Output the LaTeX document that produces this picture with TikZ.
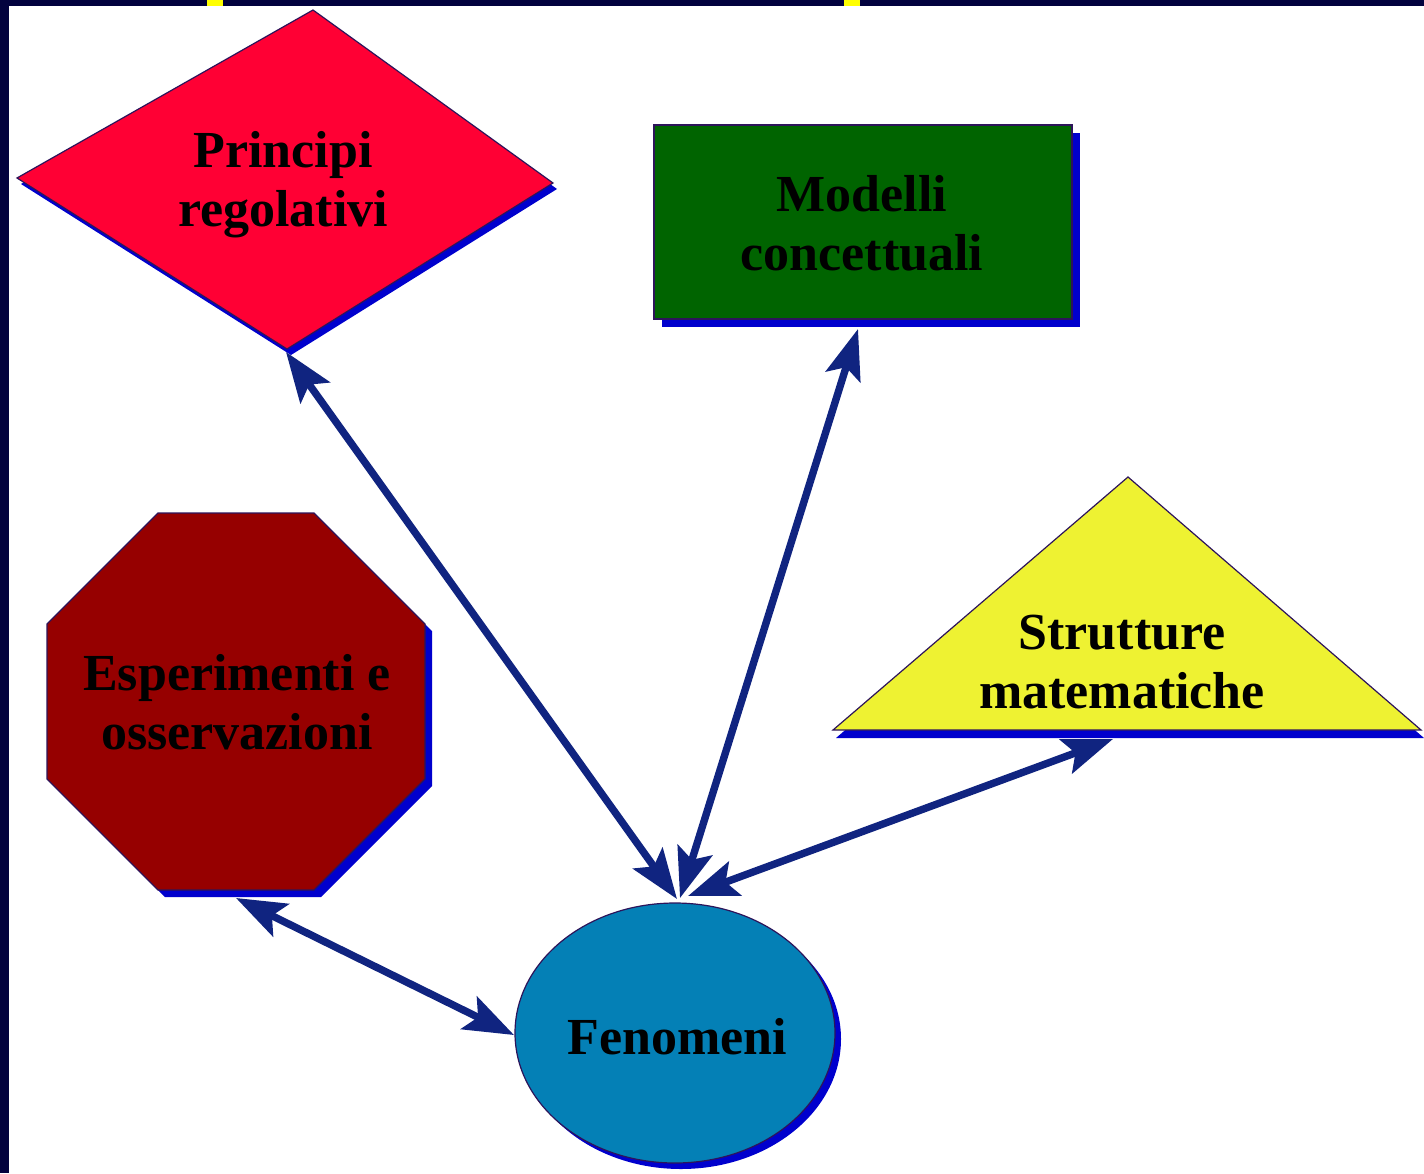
\documentclass[tikz,border=0pt]{standalone}
\usepackage{fontspec}
\setmainfont{Liberation Serif}
\usetikzlibrary{arrows.meta}

\definecolor{framenavy}{RGB}{2,2,62}
\definecolor{markyellow}{RGB}{255,255,0}
\definecolor{shadowblue}{RGB}{0,0,205}
\definecolor{edgeline}{RGB}{45,20,90}
\definecolor{princred}{RGB}{255,0,52}
\definecolor{modgreen}{RGB}{0,100,0}
\definecolor{strutyellow}{RGB}{238,242,50}
\definecolor{espred}{RGB}{150,0,0}
\definecolor{fenblue}{RGB}{4,128,182}
\definecolor{arrowblue}{RGB}{16,36,128}

\tikzset{
  shapeedge/.style={draw=edgeline, line width=0.6pt},
  shadowfill/.style={fill=shadowblue},
  lbl/.style={font=\fontsize{26pt}{29.5pt}\selectfont\bfseries, text=black,
              align=center, inner sep=0pt},
  link/.style={line width=3.7pt, draw=arrowblue, line cap=butt,
               {Stealth[length=25pt,width=18pt,inset=5pt]}-{Stealth[length=25pt,width=18pt,inset=5pt]}}
}

\begin{document}
\begin{tikzpicture}[x=0.5pt,y=-0.5pt]
\useasboundingbox (0,0) rectangle (1424,1173);
\fill[white] (0,0) rectangle (1424,1173);

% frame strips and markers
\fill[framenavy] (0,0) rectangle (1424,6);
\fill[framenavy] (0,0) rectangle (9,1173);
\fill[markyellow] (207,0) rectangle (223,6);
\fill[markyellow] (844,0) rectangle (860,6);

% diamond
\begin{scope}[shift={(4,6)}]
  \fill[shadowfill] (313,10) -- (553,183) -- (287,349) -- (17,178) -- cycle;
\end{scope}
\filldraw[fill=princred, shapeedge] (313,10) -- (553,183) -- (287,349) -- (17,178) -- cycle;

% rectangle
\fill[shadowfill] (662,133) rectangle (1080,327);
\filldraw[fill=modgreen, shapeedge] (654,125) rectangle (1072,319);

% triangle
\begin{scope}[shift={(3,8)}]
  \fill[shadowfill] (1128,477) -- (1421,730) -- (833,730) -- cycle;
\end{scope}
\filldraw[fill=strutyellow, shapeedge] (1128,477) -- (1421,730) -- (833,730) -- cycle;

% octagon
\begin{scope}[shift={(7,7)}]
  \fill[shadowfill] (158,513) -- (314,513) -- (425,624) -- (425,779) -- (314,890) -- (158,890) -- (47,779) -- (47,624) -- cycle;
\end{scope}
\filldraw[fill=espred, shapeedge] (158,513) -- (314,513) -- (425,624) -- (425,779) -- (314,890) -- (158,890) -- (47,779) -- (47,624) -- cycle;

% ellipse
\fill[shadowfill] (681,1039) ellipse [x radius=160, y radius=130];
\filldraw[fill=fenblue, shapeedge] (675,1033) ellipse [x radius=160, y radius=130];

% labels
\node[lbl] (principi) at (283,185) {Principi\\regolativi};
\node[lbl] (modelli) at (862,223) {Modelli\\concettuali};
\node[lbl] (strutture) at (1122,662) {Strutture\\matematiche};
\node[lbl] (esperimenti) at (237,702) {Esperimenti e\\osservazioni};
\node[lbl] (fenomeni) at (677,1037) {Fenomeni};

% connector end points on the shapes
\coordinate (princBot) at (286,352);
\coordinate (modBot) at (858,329);
\coordinate (strutBase) at (1113,739);
\coordinate (espBot) at (236,898);
\coordinate (fenTopA) at (677,899);
\coordinate (fenTopB) at (680,898);
\coordinate (fenTopC) at (688,896);
\coordinate (fenLeft) at (514,1035);

% connectors
\draw[link] (princBot) -- (fenTopA);
\draw[link] (modBot) -- (fenTopB);
\draw[link] (strutBase) -- (fenTopC);
\draw[link] (espBot) -- (fenLeft);
\end{tikzpicture}
\end{document}
